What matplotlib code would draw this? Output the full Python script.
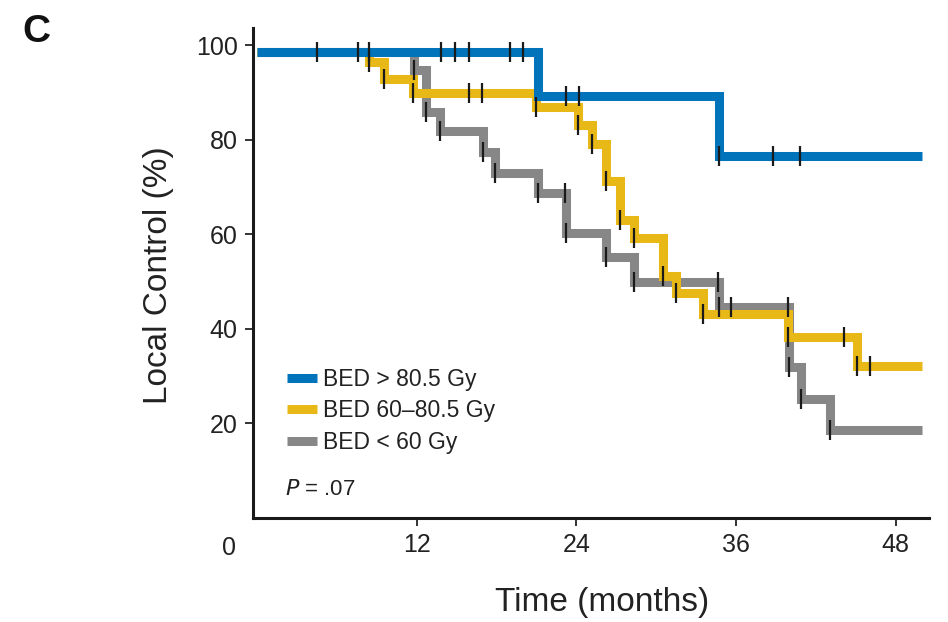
import matplotlib.pyplot as plt
import numpy as np

plt.rcParams['font.family'] = ['Liberation Sans', 'DejaVu Sans']

# Kaplan-Meier curves: time of each step (months) and local control (%) after it
blue_times = [0, 21.1, 34.7]
blue_levels = [98.7, 89.3, 76.7]
blue_censor = [4.5, 7.6, 8.4, 13.8, 14.9, 15.9, 19.0, 20.0, 23.2, 24.2, 34.7, 38.8, 40.8]

yellow_times = [0, 8.4, 9.55, 11.7, 21.0, 24.15, 25.2, 26.25, 27.3, 28.35, 30.5, 31.5, 33.5, 39.9, 45.1]
yellow_levels = [98.7, 96.4, 92.9, 90.0, 86.9, 83.2, 79.1, 71.2, 63.0, 59.3, 51.2, 47.5, 43.2, 38.2, 32.1]
yellow_censor = [8.4, 9.55, 11.7, 15.9, 16.9, 21.0, 24.15, 25.2, 26.25, 27.3, 28.35, 30.5,
                 31.5, 33.5, 39.9, 44.1, 45.1, 46.1]

gray_times = [0, 11.8, 12.7, 13.75, 17.0, 17.9, 21.1, 23.2, 26.2, 28.35, 34.7, 39.95, 40.85, 43.05]
gray_levels = [98.7, 94.8, 86.0, 81.8, 77.5, 73.1, 68.7, 60.2, 55.2, 50.0, 44.7, 32.0, 25.1, 18.6]
gray_censor = [11.8, 12.7, 13.75, 17.0, 17.9, 21.1, 23.15, 23.2, 26.2, 28.35, 34.65, 34.7,
               35.65, 39.9, 39.95, 40.85, 43.05]

end_time = 50.0

labels = ['BED > 80.5 Gy', 'BED 60\u201380.5 Gy', 'BED < 60 Gy']
colors = ['#0073BA', '#E8B816', '#878787']

x_ticks = [12, 24, 36, 48]
y_ticks = [20, 40, 60, 80, 100]


def level_at(times, levels, t):
    idx = np.searchsorted(times, t, side='right') - 1
    return np.array(levels)[idx]


fig = plt.figure(figsize=(9.48, 6.22), dpi=100)
ax = fig.add_axes([253 / 948, 1 - 517.7 / 622, (929 - 253) / 948, (517.7 - 28) / 622])

curves = [(blue_times, blue_levels, blue_censor),
          (yellow_times, yellow_levels, yellow_censor),
          (gray_times, gray_levels, gray_censor)]

# draw gray first, blue on top
handles = [None, None, None]
for i in [2, 1, 0]:
    times, levels, censor = curves[i]
    xs = list(times) + [end_time]
    ys = list(levels) + [levels[-1]]
    line, = ax.step(xs, ys, where='post', color=colors[i], lw=6.5,
                    solid_joinstyle='miter', solid_capstyle='butt', zorder=2 + (2 - i))
    handles[i] = line

for i in [2, 1, 0]:
    times, levels, censor = curves[i]
    ax.plot(censor, level_at(times, levels, censor), linestyle='none', marker='|',
            markersize=14, markeredgewidth=1.6, color='#1a1a1a', zorder=6)

ax.set_xlim(-0.3, 50.5)
ax.set_ylim(0, 103.7)
ax.set_xticks(x_ticks)
ax.set_yticks(y_ticks)

for side in ['top', 'right']:
    ax.spines[side].set_visible(False)
for side in ['left', 'bottom']:
    ax.spines[side].set_linewidth(2.2)
    ax.spines[side].set_color('#1a1a1a')

ax.tick_params(axis='both', direction='out', length=6, width=1.4, color='#333333',
               labelsize=18, labelcolor='#222222')
ax.tick_params(axis='y', pad=5)
ax.tick_params(axis='x', pad=5)

leg = ax.legend(handles, labels, loc='upper left', bbox_to_anchor=(0.05, 0.306),
                frameon=False, fontsize=16.5, handlelength=1.3, handletextpad=0.27,
                labelspacing=0.37, borderpad=0, borderaxespad=0)
for t in leg.get_texts():
    t.set_color('#222222')

ax.text(0.047, 0.0566, r'$\it{P}$ = .07', transform=ax.transAxes, fontsize=16,
        color='#222222', va='center', ha='left')

fig.text(229 / 948, 1 - 548 / 622, '0', fontsize=18, color='#222222', ha='center', va='center')
fig.text(158 / 948, 1 - 275 / 622, 'Local Control (%)', fontsize=24, rotation=90,
         ha='center', va='center', color='#222222')
fig.text(602 / 948, 1 - 603 / 622, 'Time (months)', fontsize=24,
         ha='center', va='center', color='#222222')
fig.text(22 / 948, 1 - 32 / 622, 'C', fontsize=28, fontweight='bold', ha='left', va='center',
         color='#111111')

fig.savefig('out.png', dpi=100)
